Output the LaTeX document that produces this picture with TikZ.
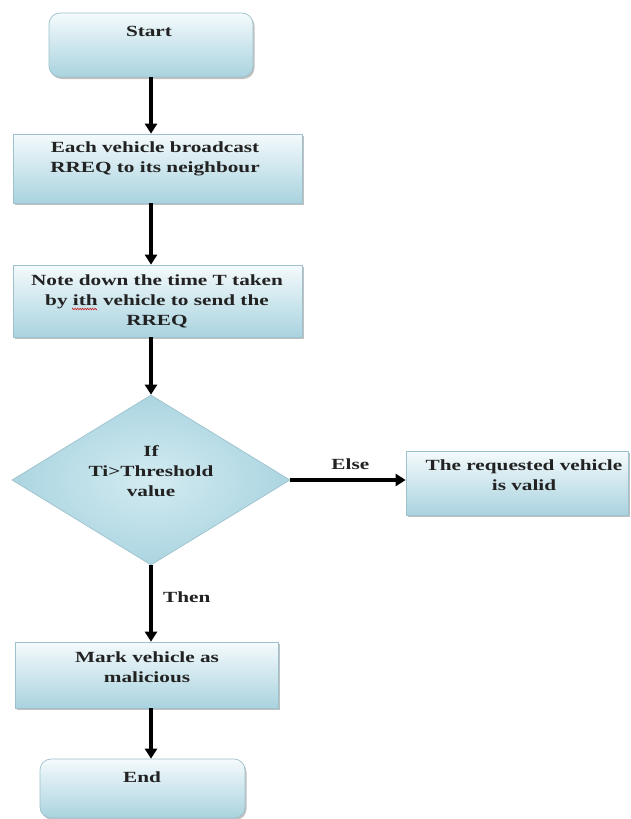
\documentclass[tikz,border=0pt]{standalone}
\usepackage{fontspec}
\setmainfont{Liberation Serif}[FakeStretch=1.37]
\usetikzlibrary{shapes.geometric,arrows.meta,shadows,decorations.pathmorphing}
\definecolor{boxtop}{HTML}{F4FAFC}
\definecolor{boxbot}{HTML}{A9D3DF}
\definecolor{boxline}{HTML}{9DC1CD}
\definecolor{diain}{HTML}{D3EBF1}
\definecolor{diaout}{HTML}{ABD5E1}
\definecolor{ink}{HTML}{222222}
\tikzset{
  box/.style={rectangle, draw=boxline, line width=0.7pt, top color=boxtop, bottom color=boxbot,
    drop shadow={shadow xshift=1.5pt, shadow yshift=-2pt, opacity=0.4, fill=black!60}, inner sep=0pt},
  term/.style={box, rounded corners=11pt},
  decis/.style={diamond, draw=boxline, line width=0.7pt, inner color=diain, outer color=diaout,
    minimum width=278pt, minimum height=170pt, inner sep=0pt},
  txt/.style={font=\bfseries\fontsize{15.5}{20}\selectfont, align=center, text=ink, inner sep=0pt},
  arr/.style={line width=3.2pt, -{Triangle[width=12pt,length=10pt]}},
}
\begin{document}
\begin{tikzpicture}[x=1pt,y=-1pt]
\useasboundingbox[fill=white] (0,0) rectangle (630,819);

% shapes
\node[term, minimum width=204pt, minimum height=64pt] (st) at (151,45) {};
\node[box, minimum width=289pt, minimum height=69pt] (b2) at (157.5,168.5) {};
\node[box, minimum width=289pt, minimum height=72pt] (b3) at (157.5,301) {};
\node[decis] (dec) at (151,480) {};
\node[box, minimum width=222pt, minimum height=64pt] (ok) at (517,483) {};
\node[box, minimum width=263pt, minimum height=66pt] (mk) at (146.5,675) {};
\node[term, minimum width=205pt, minimum height=59pt] (en) at (142.5,788.5) {};

% texts
\node[txt] (stt) at (149,31) {Start};
\node[txt] (b2t) at (155,159) {Each vehicle broadcast\\RREQ to its neighbour};
\node[txt] (b3t) at (157,301) {Note down the time T taken\\by ith vehicle to send the\\RREQ};
\node[txt] (dect) at (151,471) {If\\Ti>Threshold\\value};
\node[txt] (okt) at (524,475.5) {The requested vehicle\\is valid};
\node[txt] (mkt) at (147,667) {Mark vehicle as\\malicious};
\node[txt] (ent) at (142,777) {End};

% spell-check squiggle under "ith"
\coordinate (sq1) at (72,309);
\coordinate (sq2) at (97,309);
\draw[red!80!black, line width=0.5pt, decorate, decoration={zigzag, amplitude=0.8pt, segment length=2.5pt}] (sq1) -- (sq2);

% connectors
\draw[arr] (st.south -| dec.north) -- (b2.north -| dec.north);
\draw[arr] (b2.south -| dec.north) -- (b3.north -| dec.north);
\draw[arr] (b3.south -| dec.north) -- (dec.north);
\draw[arr] (dec.east) -- (ok.west |- dec.east) node[txt, pos=0.52, above=9pt] (else) {Else};
\draw[arr] (dec.south) -- (mk.north -| dec.south);
\draw[arr] (mk.south -| dec.south) -- (en.north -| dec.south);
\node[txt, anchor=west] (then) at (163,597) {Then};
\end{tikzpicture}
\end{document}
